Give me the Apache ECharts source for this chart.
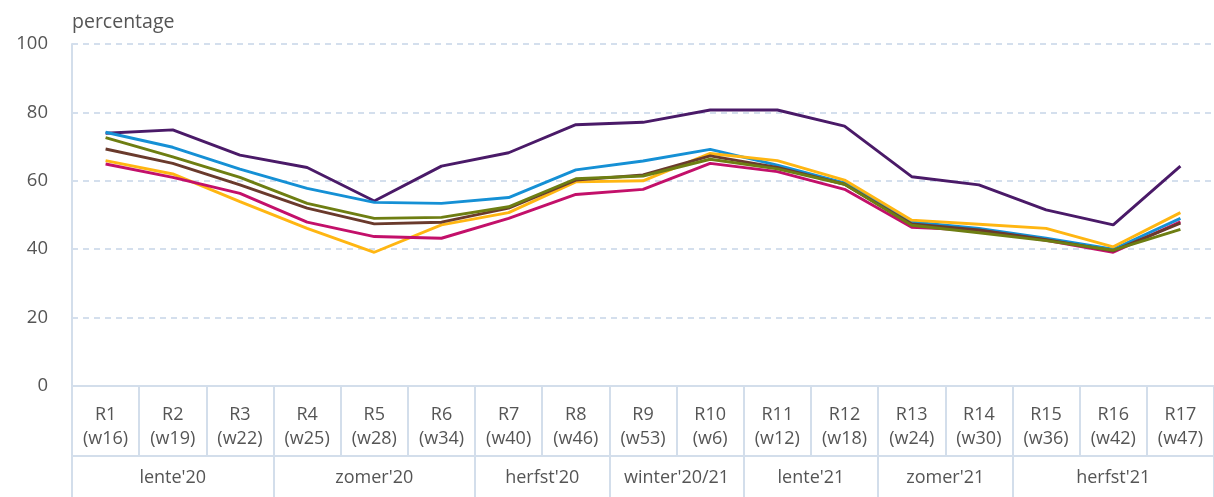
<!DOCTYPE html>
<html>
<head>
<meta charset="utf-8">
<script src="https://cdn.jsdelivr.net/npm/echarts@6/dist/echarts.min.js"></script>
<style>
html,body{margin:0;padding:0;background:#fff;}
#chart{width:1214px;height:497px;}
</style>
</head>
<body>
<div id="chart"></div>
<script>
// ---- data ----
const rounds = ["R1","R2","R3","R4","R5","R6","R7","R8","R9","R10","R11","R12","R13","R14","R15","R16","R17"];
const weeks = ["w16","w19","w22","w25","w28","w34","w40","w46","w53","w6","w12","w18","w24","w30","w36","w42","w47"];
const seasons = ["lente'20","zomer'20","herfst'20","winter'20/21","lente'21","zomer'21","herfst'21"];
const seasonSizes = [3,3,2,2,2,2,3];
const yTicks = [0,20,40,60,80,100];

const purple  = [73.9,74.9,67.5,63.9,54.1,64.3,68.2,76.4,77.1,80.7,80.7,76.0,61.2,58.8,51.5,47.1,64.3];
const blue    = [74.2,69.8,63.4,57.8,53.7,53.4,55.1,63.2,65.8,69.2,64.6,59.4,48.0,46.1,43.2,40.0,49.0];
const orange  = [65.9,62.0,53.9,46.1,39.1,47.1,50.7,59.7,60.0,68.0,65.9,60.2,48.5,47.3,46.1,40.7,50.7];
const magenta = [64.9,61.0,56.3,47.9,43.7,43.2,49.0,56.0,57.5,65.1,62.7,57.5,46.4,45.5,42.6,39.1,48.0];
const brown   = [69.3,65.1,58.8,52.0,47.4,47.9,52.0,60.2,61.7,67.3,63.9,59.0,47.4,45.6,42.8,39.5,47.6];
const olive   = [72.6,67.0,61.0,53.4,49.0,49.3,52.4,60.6,61.4,66.3,63.5,59.0,47.0,44.8,42.5,39.7,45.8];

// ---- build helpers ----
const roundLabels = rounds.map((r,i)=> r + "\n(" + weeks[i] + ")");
// half-step positions for the season row
const halfCount = rounds.length * 2 + 1;
const halfData = Array.from({length: halfCount}, (_, i) => String(i));
const seasonLabelAt = {};
const boundarySet = new Set([0]);
let start = 0;
seasons.forEach((s, k) => {
  const size = seasonSizes[k];
  seasonLabelAt[start * 2 + size] = s;
  start += size;
  boundarySet.add(start * 2);
});

const FONT = "'Open Sans', sans-serif";
const TXT = '#555555';
const AXIS = '#d3deeb';

const chart = echarts.init(document.getElementById('chart'), null, {renderer:'canvas'});
const mk = (name, data, color) => ({
  name, type:'line', data, xAxisIndex:0, yAxisIndex:0,
  symbol:'none', smooth:false,
  lineStyle:{color, width:2.9}, itemStyle:{color},
  emphasis:{disabled:true}
});
chart.setOption({
  animation:false,
  textStyle:{fontFamily:FONT},
  grid:{left:72, top:44, width:1148, height:342},
  xAxis:[
    {
      type:'category', data:roundLabels, boundaryGap:true, position:'bottom',
      axisLine:{show:true, lineStyle:{color:AXIS, width:2}},
      axisTick:{show:true, interval:0, length:70, lineStyle:{color:AXIS, width:2}},
      axisLabel:{interval:0, fontSize:18, lineHeight:24, color:TXT, margin:17, fontFamily:FONT},
      splitLine:{show:false}
    },
    {
      type:'category', data:halfData, boundaryGap:false, position:'bottom', offset:70,
      axisLine:{show:true, lineStyle:{color:AXIS, width:2}},
      axisTick:{show:true, length:45, lineStyle:{color:AXIS, width:2},
        interval:(idx)=> boundarySet.has(idx)},
      axisLabel:{fontSize:18, lineHeight:22, color:TXT, margin:11, fontFamily:FONT,
        showMinLabel:true, showMaxLabel:true,
        interval:(idx)=> seasonLabelAt[idx] !== undefined,
        formatter:(v)=> seasonLabelAt[+v] || ''},
      splitLine:{show:false}
    }
  ],
  yAxis:{
    type:'value', min:yTicks[0], max:yTicks[yTicks.length-1], interval:20,
    name:'percentage', nameLocation:'end', nameGap:22,
    nameTextStyle:{align:'left', verticalAlign:'middle', fontSize:19.5, color:TXT, fontFamily:FONT},
    axisLine:{show:true, lineStyle:{color:AXIS, width:2}},
    axisTick:{show:false},
    axisLabel:{fontSize:18.5, color:TXT, margin:24, fontFamily:FONT},
    splitLine:{show:true, lineStyle:{color:'#c6d5e7', type:[6,5], width:1.5}}
  },
  series:[
    mk('paars', purple, '#4a1a68'),
    mk('blauw', blue, '#1590d5'),
    mk('geel', orange, '#ffb612'),
    mk('rood', magenta, '#c3106a'),
    mk('bruin', brown, '#6a3a2c'),
    mk('groen', olive, '#6e7e12')
  ]
});
</script>
</body>
</html>
